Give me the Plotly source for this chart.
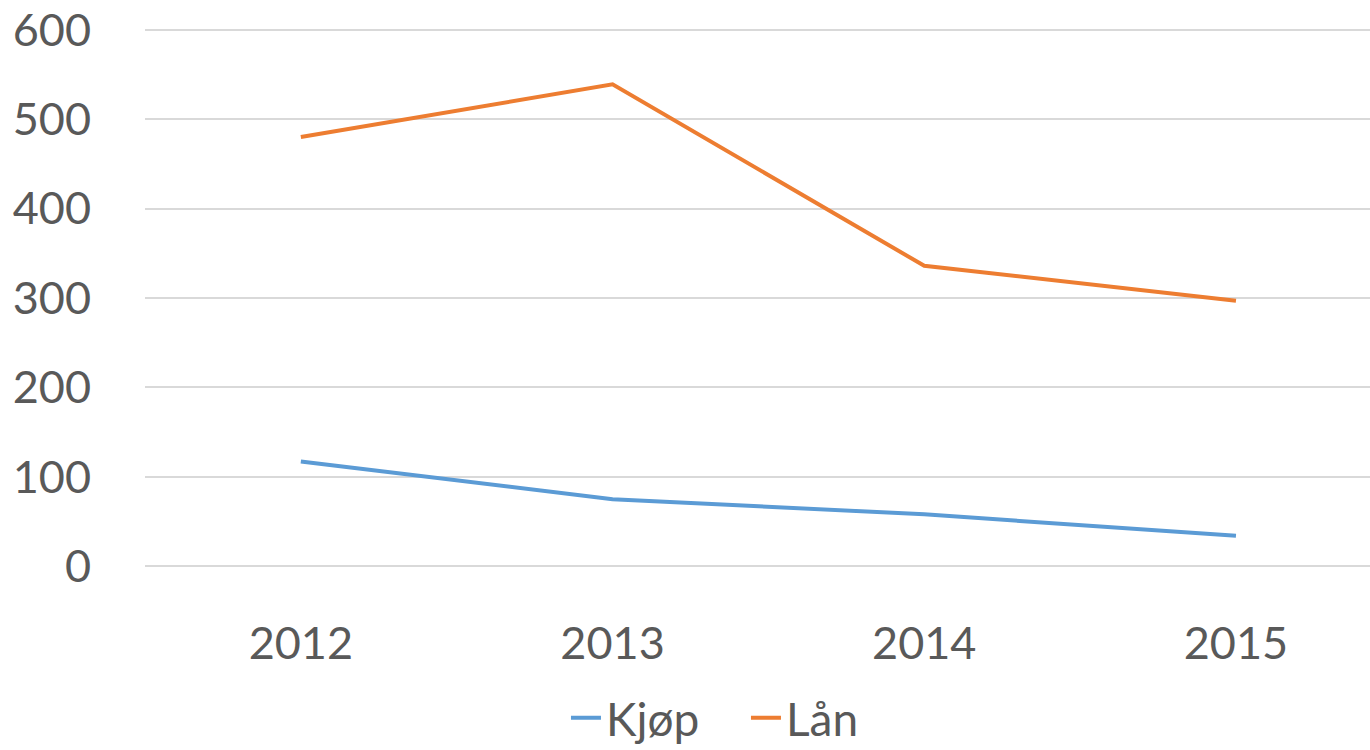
import plotly.graph_objects as go

years = ["2012", "2013", "2014", "2015"]
kjop = [117, 75, 58, 34]
lan = [480, 539, 336, 297]
y_ticks = [0, 100, 200, 300, 400, 500, 600]

fig = go.Figure()
fig.add_trace(go.Scatter(x=years, y=kjop, mode="lines", name="Kjøp",
                         line=dict(color="#5B9BD5", width=4)))
fig.add_trace(go.Scatter(x=years, y=lan, mode="lines", name="Lån",
                         line=dict(color="#ED7D31", width=4)))

font_family = "Lato, 'Open Sans', sans-serif"
fig.update_layout(
    width=1370, height=750,
    margin=dict(l=145, r=0, t=28, b=182),
    paper_bgcolor="white", plot_bgcolor="white",
    font=dict(family=font_family, size=45, color="#595959"),
    showlegend=True,
    legend=dict(orientation="h", x=0.5445, xanchor="center", xref="container",
                y=0.043, yanchor="middle", yref="container",
                font=dict(size=46, color="#595959"), entrywidth=135, entrywidthmode="pixels"),
    xaxis=dict(type="category", range=[-0.5, 3.43], showgrid=False, zeroline=False,
               showline=False, ticks="outside", ticklen=36, tickcolor="rgba(0,0,0,0)",
               automargin=False),
    yaxis=dict(range=[-2, 602], tickvals=y_ticks, showgrid=True, gridcolor="#D9D9D9",
               gridwidth=1.5, zeroline=False, showline=False, ticks="outside",
               ticklen=44, tickcolor="rgba(0,0,0,0)", automargin=False),
)

fig.write_html("out.html", config={"displayModeBar": False},
               post_script="document.body.style.margin='0';document.body.style.overflow='hidden';")
